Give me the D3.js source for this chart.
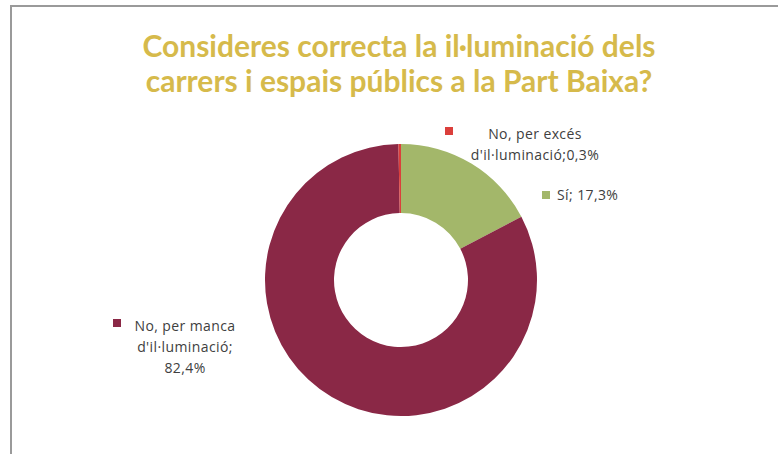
<!DOCTYPE html>
<html><head><meta charset="utf-8">
<script src="https://cdn.jsdelivr.net/npm/d3@7"></script>
<style>body{margin:0;background:#fff}svg{display:block}</style>
</head><body>
<script>
const titleLines = ["Consideres correcta la il·luminació dels", "carrers i espais públics a la Part Baixa?"];
const categories = ["Sí", "No, per manca d'il·luminació", "No, per excés d'il·luminació"];
const values = [17.3, 82.4, 0.3];
const colors = ["#A3B76A", "#8A2846", "#DB3F3B"];
const labelLines = [["Sí; 17,3%"], ["No, per manca", "d'il·luminació;", "82,4%"], ["No, per excés", "d'il·luminació;0,3%"]];

const W = 778, H = 454;
const svg = d3.select("body").append("svg").attr("width", W).attr("height", H);

svg.append("rect").attr("x", 11).attr("y", 6).attr("width", 800).attr("height", 500)
  .attr("fill", "#fff").attr("stroke", "#9a9a9a").attr("stroke-width", 2);

svg.append("g").selectAll("text").data(titleLines).join("text")
  .attr("x", 399).attr("y", (d, i) => 57 + i * 35)
  .attr("text-anchor", "middle")
  .attr("font-family", "Lato, 'Open Sans', sans-serif").attr("font-weight", "bold")
  .attr("font-size", 30).attr("fill", "#D6BA4B")
  .text(d => d);

const cx = 401, cy = 280, rO = 136, rI = 67;
const pie = d3.pie().sort(null).value(d => d)(values);
const arc = d3.arc().innerRadius(rI).outerRadius(rO);
svg.append("g").attr("transform", `translate(${cx},${cy})`)
  .selectAll("path").data(pie).join("path")
  .attr("d", arc).attr("fill", (d, i) => colors[i]);

// labels
const labelPos = [
  {sx: 542, sy: 191, tx: 557, ty: 200, anchor: "start", lh: 0},
  {sx: 113, sy: 319, tx: 185, ty: 331, anchor: "middle", lh: 21},
  {sx: 445, sy: 127, tx: 535, ty: 139, anchor: "middle", lh: 21}
];
const lg = svg.append("g");
labelLines.forEach((lines, i) => {
  const p = labelPos[i];
  lg.append("rect").attr("x", p.sx).attr("y", p.sy).attr("width", 8).attr("height", 8).attr("fill", colors[i]);
  const t = lg.append("text").attr("font-family", "'Open Sans', sans-serif").attr("font-size", 14)
    .attr("letter-spacing", 0.4).attr("fill", "#404040").attr("text-anchor", p.anchor);
  lines.forEach((l, j) => {
    t.append("tspan").attr("x", p.tx).attr("y", p.ty + j * p.lh).text(l);
  });
});
</script>
</body></html>
